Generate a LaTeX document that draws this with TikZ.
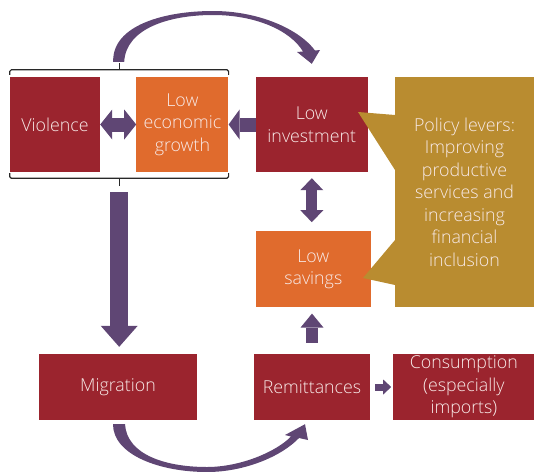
\documentclass[tikz,border=0pt]{standalone}
\usepackage{fontspec}
\setmainfont{Open Sans}[UprightFont=* Light]
\usetikzlibrary{arrows.meta,positioning,calc}

\definecolor{boxred}{RGB}{155,36,46}
\definecolor{boxorange}{RGB}{224,107,45}
\definecolor{calloutgold}{RGB}{185,140,48}
\definecolor{arrowpurple}{RGB}{95,70,116}
\definecolor{boxtext}{RGB}{248,234,232}
\definecolor{bracketgrey}{RGB}{40,40,40}

\newcommand{\boxfont}{\fontsize{17.8}{22.5}\selectfont}

\begin{document}
\begin{tikzpicture}[x=1pt,y=-1pt,
	box/.style={rectangle,inner sep=0pt,align=center,text=boxtext,font=\boxfont},
	redbox/.style={box,fill=boxred},
	orangebox/.style={box,fill=boxorange},
	fatarrow/.style n args={3}{draw=arrowpurple,line width=#1,-{Triangle[width=#2,length=#3,line width=0pt]}},
	fatboth/.style n args={3}{draw=arrowpurple,line width=#1,{Triangle[width=#2,length=#3,line width=0pt]}-{Triangle[width=#2,length=#3,line width=0pt]}},
	bracket/.style={draw=bracketgrey,line width=1.2pt,rounded corners=1.5pt}]
	\useasboundingbox (0,0) rectangle (534,471);
	\node[redbox,minimum width=90pt,minimum height=95pt]	(viol)	at (55,124.5) {Violence};
	\node[orangebox,minimum width=92pt,minimum height=95pt]	(grow) [right=36pt of viol] {Low\\economic\\growth};
	\node[redbox,minimum width=112pt,minimum height=95pt]	(inv) [right=27pt of grow] {Low\\investment};
	\node[orangebox,minimum width=115pt,minimum height=76pt]	(sav) [below=59pt of inv,xshift=1.5pt] {Low\\savings};
	\node[redbox,minimum width=158pt,minimum height=66pt]	(mig)	at (118,387) {Migration};
	\node[redbox,minimum width=116pt,minimum height=66pt]	(rem)	at (312,387) {Remittances};
	\node[redbox,minimum width=141pt,minimum height=66pt]	(cons) [right=23pt of rem] {Consumption\\(especially\\imports)};
	% callout with its two pointers
	\fill[calloutgold] (395,115) -- (358,112) -- (395,170) -- cycle;
	\fill[calloutgold] (395,240) -- (363,278) -- (395,285) -- cycle;
	\node[box,fill=calloutgold,minimum width=139pt,minimum height=230pt]	(pol)	at (464.5,192) {Policy levers:\\Improving\\productive\\services and\\increasing\\financial\\inclusion};
	% bracket round violence and growth
	\coordinate (grptop) at ($(viol.north west)!0.5!(grow.north east)+(0,-14)$);
	\coordinate (grpbot) at ($(viol.south west)!0.5!(grow.south east)+(0,14)$);
	\draw[bracket] ($(viol.north west)+(0,-2)$) -- ++(0,-5) -| ($(grow.north east)+(0,-2)$);
	\draw[bracket] (grptop) -- ++(0,7);
	\draw[bracket] ($(viol.south west)+(0,1)$) -- ++(0,5) -| ($(grow.south east)+(0,1)$);
	\draw[bracket] (grpbot) -- ++(0,-8);
	% straight arrows
	\draw[fatboth={14pt}{30pt}{12pt}] (viol) -- (grow);
	\draw[fatarrow={14pt}{30pt}{11pt}] (inv) -- (grow);
	\draw[fatboth={11pt}{23pt}{12pt},shorten <=6pt,shorten >=9pt] (inv.south) -- (inv.south |- sav.north);
	\draw[fatarrow={12pt}{23pt}{14pt},shorten <=11pt,shorten >=6pt] (rem.north) -- (rem.north |- sav.south);
	\draw[fatarrow={7pt}{15pt}{8pt},shorten <=5pt,shorten >=2pt] (rem) -- (cons);
	\draw[fatarrow={18pt}{37pt}{21pt},shorten <=6pt,shorten >=7pt] (grpbot) -- (grpbot |- mig.north);
	% curved arrows
	\coordinate (bendtip) at ($(inv.north)+(0,-13)$);
	\fill[arrowpurple] ($(grptop)+(-6,-1)$) .. controls (112,25) and (165,11) .. (213,11)
		.. controls (260,11) and (300,30) .. (315,50.5) -- (320,50) -- (bendtip) -- (297,52) -- (303,51.5)
		.. controls (290,30) and (255,15) .. (213,15)
		.. controls (170,15) and (126,28) .. ($(grptop)+(5,-1)$) -- cycle;
	\coordinate (loopstart) at ($(mig.south)+(0,4)$);
	\coordinate (looptip) at ($(rem.south)+(-7,4)$);
	\fill[arrowpurple] ($(loopstart)+(-5,0)$) .. controls (113,455) and (160,472) .. (207,472)
		.. controls (245,472) and (282,456) .. (299,438) -- (308,440) -- (looptip) -- (285,435) -- (291,436.5)
		.. controls (276,452) and (240,467) .. (207,467)
		.. controls (166,467) and (127,455) .. ($(loopstart)+(7,0)$) -- cycle;
\end{tikzpicture}
\end{document}
